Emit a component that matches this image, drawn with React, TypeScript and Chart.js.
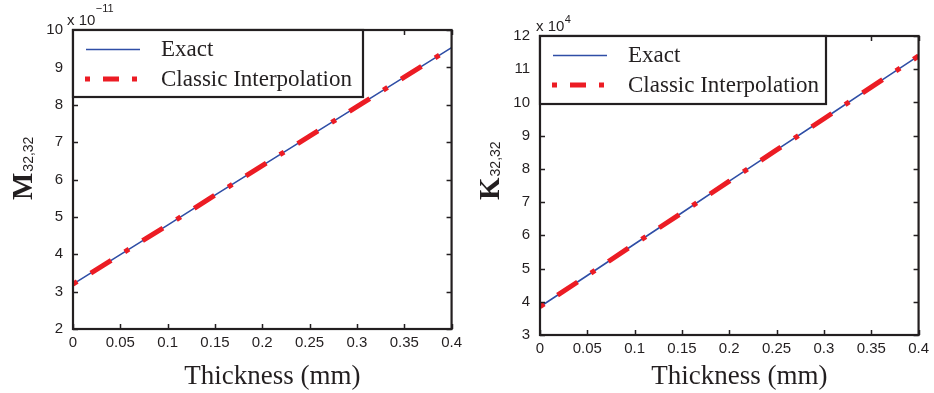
import React, { useEffect, useRef } from "react";
import { Chart, registerables } from "chart.js";

Chart.register(...registerables);

// ---- data ----
const thickness = [0, 0.05, 0.1, 0.15, 0.2, 0.25, 0.3, 0.35, 0.4];
const mExact = [3.2, 3.99, 4.78, 5.58, 6.37, 7.16, 7.95, 8.74, 9.53];
const mInterp = [3.2, 3.99, 4.78, 5.58, 6.37, 7.16, 7.95, 8.74, 9.53];
const kExact = [3.85, 4.79, 5.74, 6.68, 7.63, 8.57, 9.51, 10.46, 11.4];
const kInterp = [3.85, 4.79, 5.74, 6.68, 7.63, 8.57, 9.51, 10.46, 11.4];
const xTicks = [0, 0.05, 0.1, 0.15, 0.2, 0.25, 0.3, 0.35, 0.4];
const xTickLabels = ["0", "0.05", "0.1", "0.15", "0.2", "0.25", "0.3", "0.35", "0.4"];
const mTicks = [2, 3, 4, 5, 6, 7, 8, 9, 10];
const kTicks = [3, 4, 5, 6, 7, 8, 9, 10, 11, 12];
const legendLabels = ["Exact", "Classic Interpolation"];
const xTitle = "Thickness (mm)";

const BLUE = "#2f4ea6";
const RED = "#ec1c24";
const INK = "#231f20";
const SERIF = "'Liberation Serif', 'Times New Roman', serif";
const SANS = "'Liberation Sans', Arial, sans-serif";

type PanelCfg = {
  exact: number[];
  interp: number[];
  yTicks: number[];
  yMin: number;
  yMax: number;
  symbol: string;
  sub: string;
  expBase: string;
  expPow: string;
  expDx: number;
  expPowDy: number;
  padTop: number;
  padRight: number;
  legendW: number;
  legendH: number;
};

const panels: PanelCfg[] = [
  {
    exact: mExact,
    interp: mInterp,
    yTicks: mTicks,
    yMin: 2,
    yMax: 10,
    symbol: "M",
    sub: "32,32",
    expBase: "x 10",
    expPow: "\u221211",
    expDx: -6,
    expPowDy: -18,
    padTop: 30,
    padRight: 15,
    legendW: 290,
    legendH: 67,
  },
  {
    exact: kExact,
    interp: kInterp,
    yTicks: kTicks,
    yMin: 3,
    yMax: 12,
    symbol: "K",
    sub: "32,32",
    expBase: "x 10",
    expPow: "4",
    expDx: -4,
    expPowDy: -13,
    padTop: 36,
    padRight: 14,
    legendW: 286,
    legendH: 68,
  },
];

function makeDecor(cfg: PanelCfg) {
  return {
    id: "decor-" + cfg.symbol,
    afterDraw(chart: any) {
      const ctx = chart.ctx as CanvasRenderingContext2D;
      const a = chart.chartArea;
      const xs = chart.scales.x;
      const ys = chart.scales.y;
      ctx.save();
      // inward tick marks on all four sides
      ctx.strokeStyle = INK;
      ctx.lineWidth = 1.5;
      const tl = 5;
      ctx.beginPath();
      xTicks.forEach((v) => {
        const px = Math.round(xs.getPixelForValue(v)) + 0.5;
        ctx.moveTo(px, a.bottom);
        ctx.lineTo(px, a.bottom - tl);
        ctx.moveTo(px, a.top);
        ctx.lineTo(px, a.top + tl);
      });
      cfg.yTicks.forEach((v) => {
        const py = Math.round(ys.getPixelForValue(v)) + 0.5;
        ctx.moveTo(a.left, py);
        ctx.lineTo(a.left + tl, py);
        ctx.moveTo(a.right, py);
        ctx.lineTo(a.right - tl, py);
      });
      ctx.stroke();
      // frame
      ctx.lineWidth = 2.2;
      ctx.strokeRect(a.left, a.top, a.right - a.left, a.bottom - a.top);

      // legend box
      const lx = a.left;
      const ly = a.top;
      ctx.fillStyle = "#ffffff";
      ctx.fillRect(lx, ly, cfg.legendW, cfg.legendH);
      ctx.lineWidth = 2.2;
      ctx.strokeStyle = INK;
      ctx.strokeRect(lx, ly, cfg.legendW, cfg.legendH);
      // samples
      ctx.lineCap = "butt";
      ctx.strokeStyle = BLUE;
      ctx.lineWidth = 1.6;
      ctx.beginPath();
      ctx.moveTo(lx + 13, ly + 19.5);
      ctx.lineTo(lx + 67, ly + 19.5);
      ctx.stroke();
      ctx.strokeStyle = RED;
      ctx.lineWidth = 5;
      ctx.setLineDash([5, 13, 16, 13]);
      ctx.beginPath();
      ctx.moveTo(lx + 12, ly + 49);
      ctx.lineTo(lx + 64, ly + 49);
      ctx.stroke();
      ctx.setLineDash([]);
      ctx.fillStyle = INK;
      ctx.font = "23px " + SERIF;
      ctx.textAlign = "left";
      ctx.textBaseline = "alphabetic";
      ctx.fillText(legendLabels[0], lx + 88, ly + 26);
      ctx.fillText(legendLabels[1], lx + 88, ly + 56);

      // exponent label
      ctx.font = "15px " + SANS;
      const ex = a.left + cfg.expDx;
      ctx.fillText(cfg.expBase, ex, a.top - 5);
      const bw = ctx.measureText(cfg.expBase).width;
      ctx.font = "11px " + SANS;
      ctx.fillText(cfg.expPow, ex + bw + 0.5, a.top + cfg.expPowDy);

      // x title
      ctx.font = "27px " + SERIF;
      ctx.textAlign = "center";
      ctx.fillText(xTitle, (a.left + a.right) / 2 + 10, 384);

      // y title (rotated)
      ctx.save();
      ctx.translate(32, 200);
      ctx.rotate(-Math.PI / 2);
      ctx.textAlign = "left";
      ctx.font = "bold 29px " + SERIF;
      ctx.fillText(cfg.symbol, 0, 0);
      const sw = ctx.measureText(cfg.symbol).width;
      ctx.font = "14px " + SANS;
      ctx.fillText(cfg.sub, sw + 1, 1);
      ctx.restore();

      ctx.restore();
    },
  };
}

function Panel({ cfg, left }: { cfg: PanelCfg; left: number }) {
  const ref = useRef<HTMLCanvasElement | null>(null);
  useEffect(() => {
    const canvas = ref.current;
    if (!canvas) return;
    const chart = new Chart(canvas, {
      type: "line",
      data: {
        datasets: [
          {
            label: legendLabels[1],
            data: thickness.map((t, i) => ({ x: t, y: cfg.interp[i] })),
            borderColor: RED,
            borderWidth: 5,
            borderDash: [5, 16, 24, 16],
            borderCapStyle: "butt",
            pointRadius: 0,
            fill: false,
            tension: 0,
            order: 0,
          },
          {
            label: legendLabels[0],
            data: thickness.map((t, i) => ({ x: t, y: cfg.exact[i] })),
            borderColor: BLUE,
            borderWidth: 1.6,
            pointRadius: 0,
            fill: false,
            tension: 0,
            order: 1,
          },
        ],
      },
      options: {
        animation: false,
        responsive: false,
        maintainAspectRatio: false,
        devicePixelRatio: 1,
        layout: { padding: { top: cfg.padTop, right: cfg.padRight, left: 0, bottom: 0 } },
        plugins: { legend: { display: false }, tooltip: { enabled: false } },
        scales: {
          x: {
            type: "linear",
            min: 0,
            max: 0.4,
            grid: { display: false, drawTicks: false },
            border: { display: false },
            afterBuildTicks: (s: any) => {
              s.ticks = xTicks.map((v) => ({ value: v }));
            },
            afterFit: (s: any) => {
              s.height = 393 - cfg.padTop - 299;
            },
            ticks: {
              autoSkip: false,
              maxRotation: 0,
              padding: 5,
              color: INK,
              font: { family: SANS, size: 15 },
              callback: (_v: any, i: number) => xTickLabels[i],
            },
          },
          y: {
            type: "linear",
            min: cfg.yMin,
            max: cfg.yMax,
            grid: { display: false, drawTicks: false },
            border: { display: false },
            afterBuildTicks: (s: any) => {
              s.ticks = cfg.yTicks.map((v) => ({ value: v }));
            },
            afterFit: (s: any) => {
              s.width = 73;
            },
            ticks: {
              autoSkip: false,
              padding: 10,
              color: INK,
              font: { family: SANS, size: 15 },
              callback: (v: any) => String(v),
            },
          },
        },
      },
      plugins: [makeDecor(cfg)],
    });
    return () => chart.destroy();
  }, [cfg]);
  return (
    <canvas
      ref={ref}
      width={467}
      height={393}
      style={{ position: "absolute", left, top: 0, width: 467, height: 393, display: "block" }}
    />
  );
}

export default function App() {
  return (
    <div
      style={{
        position: "fixed",
        left: 0,
        top: 0,
        width: 934,
        height: 393,
        background: "#ffffff",
        overflow: "hidden",
      }}
    >
      <Panel cfg={panels[0]} left={0} />
      <Panel cfg={panels[1]} left={467} />
    </div>
  );
}
